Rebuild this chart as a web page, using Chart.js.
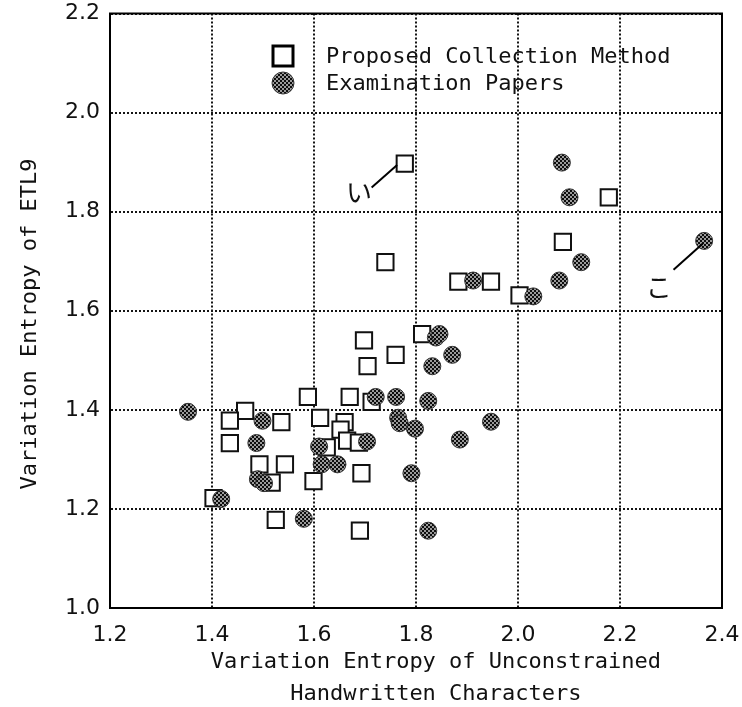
<!DOCTYPE html>
<html><head><meta charset="utf-8">
<script src="https://cdn.jsdelivr.net/npm/chart.js@4"></script>
<style>html,body{margin:0;padding:0;background:#fff}#wrap{width:742px;height:707px}</style>
</head><body><div id="wrap"><canvas id="c" width="742" height="707"></canvas></div>
<script>
// ---- data ----
const seriesNames = ['Proposed Collection Method', 'Examination Papers'];
const proposedX = [1.778, 2.178, 2.088, 1.740, 1.883, 1.947, 2.003, 1.812, 1.698, 1.760, 1.705, 1.588, 1.670, 1.713, 1.612, 1.660, 1.652, 1.665, 1.688, 1.625, 1.693, 1.599, 1.690, 1.465, 1.435, 1.536, 1.435, 1.493, 1.543, 1.517, 1.403, 1.525];
const proposedY = [1.897, 1.829, 1.739, 1.698, 1.659, 1.659, 1.631, 1.553, 1.540, 1.511, 1.488, 1.426, 1.426, 1.416, 1.384, 1.375, 1.360, 1.338, 1.334, 1.324, 1.272, 1.256, 1.156, 1.398, 1.378, 1.375, 1.333, 1.290, 1.290, 1.253, 1.222, 1.178];
const examX = [1.353, 1.499, 1.487, 1.490, 1.502, 1.418, 1.580, 1.610, 1.615, 1.646, 1.704, 1.721, 1.761, 1.824, 1.765, 1.768, 1.798, 1.791, 1.824, 1.886, 1.947, 1.832, 1.871, 1.839, 1.846, 1.912, 2.030, 2.081, 2.124, 2.101, 2.086, 2.365];
const examY = [1.396, 1.378, 1.333, 1.260, 1.252, 1.220, 1.180, 1.326, 1.290, 1.290, 1.336, 1.426, 1.426, 1.418, 1.384, 1.373, 1.362, 1.272, 1.156, 1.340, 1.376, 1.488, 1.511, 1.546, 1.553, 1.661, 1.629, 1.661, 1.698, 1.829, 1.899, 1.741];
const xTicks = [1.2, 1.4, 1.6, 1.8, 2.0, 2.2, 2.4];
const yTicks = [1.0, 1.2, 1.4, 1.6, 1.8, 2.0, 2.2];
const xTitle = ['   Variation Entropy of Unconstrained', '   Handwritten Characters'];
const yTitle = 'Variation Entropy of ETL9  ';
// handwritten marks: label, point (x,y), line end (x,y), label position (x,y)
const noteLabels = ['い', 'こ'];
const noteFrom = [[1.763, 1.894], [2.362, 1.735]];
const noteTo = [[1.713, 1.849], [2.305, 1.683]];
const noteAt = [[1.688, 1.839], [2.276, 1.647]];

// ---- pattern for the hatched dots ----
function makePattern() {
  const pc = document.createElement('canvas');
  pc.width = 4; pc.height = 4;
  const g = pc.getContext('2d');
  g.fillStyle = '#9a9a9a'; g.fillRect(0, 0, 4, 4);
  g.fillStyle = '#0d0d0d';
  g.fillRect(0, 0, 2, 2); g.fillRect(2, 2, 2, 2);
  return document.getElementById('c').getContext('2d').createPattern(pc, 'repeat');
}
const hatch = makePattern();

const proposedPts = proposedX.map((x, i) => ({x, y: proposedY[i]}));
const examPts = examX.map((x, i) => ({x, y: examY[i]}));

const framePlugin = {
  id: 'frame',
  beforeDatasetsDraw(chart) {
    const {ctx, chartArea: a} = chart;
    ctx.save();
    ctx.strokeStyle = '#000'; ctx.lineWidth = 2; ctx.setLineDash([]);
    ctx.strokeRect(a.left, a.top, a.right - a.left, a.bottom - a.top);
    ctx.restore();
  }
};

const extrasPlugin = {
  id: 'extras',
  afterDraw(chart) {
    const {ctx} = chart;
    const xs = chart.scales.x, ys = chart.scales.y;
    ctx.save();
    // legend
    ctx.strokeStyle = '#000'; ctx.lineWidth = 3; ctx.fillStyle = '#fff';
    ctx.fillRect(273, 46, 20, 20); ctx.strokeRect(273, 46, 20, 20);
    ctx.beginPath(); ctx.arc(283, 83, 11, 0, Math.PI * 2);
    ctx.fillStyle = hatch; ctx.fill();
    ctx.lineWidth = 1; ctx.strokeStyle = '#333'; ctx.stroke();
    ctx.fillStyle = '#111';
    ctx.font = '22px "DejaVu Sans Mono"';
    ctx.textBaseline = 'middle'; ctx.textAlign = 'left';
    ctx.fillText(seriesNames[0], 326, 57);
    ctx.fillText(seriesNames[1], 326, 84);
    // handwritten notes
    ctx.strokeStyle = '#000'; ctx.lineWidth = 2;
    ctx.font = '26px "Noto Sans CJK JP"'; ctx.textAlign = 'center';
    noteLabels.forEach((t, i) => {
      ctx.beginPath();
      ctx.moveTo(xs.getPixelForValue(noteFrom[i][0]), ys.getPixelForValue(noteFrom[i][1]));
      ctx.lineTo(xs.getPixelForValue(noteTo[i][0]), ys.getPixelForValue(noteTo[i][1]));
      ctx.stroke();
      ctx.fillText(t, xs.getPixelForValue(noteAt[i][0]), ys.getPixelForValue(noteAt[i][1]));
    });
    ctx.restore();
  }
};

const gridCommon = {color: '#151515', lineWidth: 2, drawTicks: false};
const borderCommon = {display: true, color: '#000', width: 2, dash: [2, 2]};

new Chart(document.getElementById('c'), {
  type: 'scatter',
  data: {
    datasets: [
      {label: seriesNames[0], data: proposedPts, pointStyle: 'rect', pointRadius: 11.5,
       backgroundColor: '#fff', borderColor: '#111', borderWidth: 2, order: 1},
      {label: seriesNames[1], data: examPts, pointStyle: 'circle', pointRadius: 8.5,
       backgroundColor: hatch, borderColor: '#333', borderWidth: 1, order: 0}
    ]
  },
  options: {
    responsive: false, animation: false, devicePixelRatio: 1, events: [],
    layout: {padding: {left: 0, right: 20, top: 8, bottom: 0}},
    plugins: {legend: {display: false}, tooltip: {enabled: false}},
    scales: {
      x: {
        type: 'linear', min: 1.2, max: 2.4,
        afterBuildTicks: s => { s.ticks = xTicks.map(v => ({value: v})); },
        afterFit: s => { s.height = 99; s.paddingLeft = 0; s.paddingRight = 0; },
        grid: gridCommon, border: borderCommon,
        ticks: {padding: 14, color: '#111', font: {family: '"DejaVu Sans"', size: 22},
                callback: v => Number(v).toFixed(1), maxRotation: 0},
        title: {display: true, text: xTitle, color: '#111',
                font: {family: '"DejaVu Sans Mono"', size: 22, lineHeight: 1.45},
                padding: {top: 0, bottom: -3}}
      },
      y: {
        type: 'linear', min: 1.0, max: 2.2,
        afterBuildTicks: s => { s.ticks = yTicks.map(v => ({value: v})); },
        afterFit: s => { s.width = 110; s.paddingTop = 0; s.paddingBottom = 0; },
        grid: gridCommon, border: borderCommon,
        ticks: {padding: 10, color: '#111', font: {family: '"DejaVu Sans"', size: 22},
                callback: v => Number(v).toFixed(1)},
        title: {display: true, text: yTitle, color: '#111',
                font: {family: '"DejaVu Sans Mono"', size: 22, lineHeight: 1.2},
                padding: {top: 17, bottom: 0}}
      }
    }
  },
  plugins: [framePlugin, extrasPlugin]
});
</script></body></html>
